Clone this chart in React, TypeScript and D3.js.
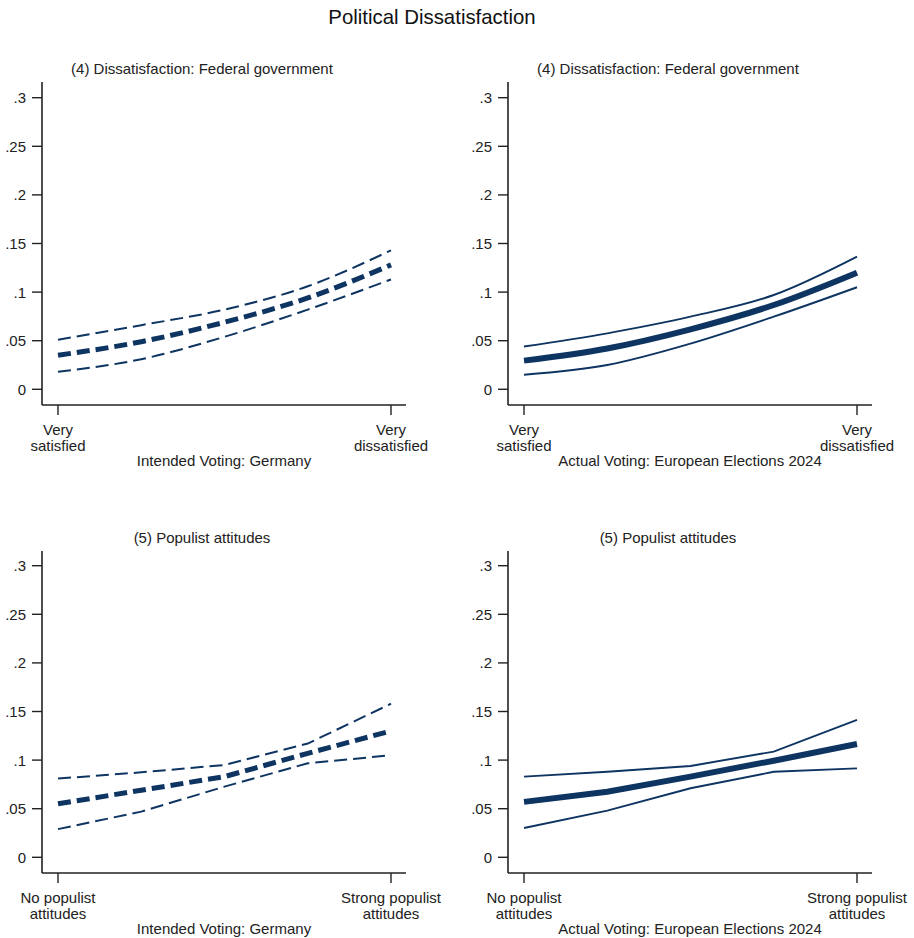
import React, { useEffect, useRef } from "react";
import * as d3 from "d3";

// predicted probabilities at 5 levels of each predictor
const levels = [1, 2, 3, 4, 5];

const dissIntendedMean = [0.035, 0.049, 0.069, 0.094, 0.128];
const dissIntendedUpper = [0.051, 0.066, 0.082, 0.106, 0.143];
const dissIntendedLower = [0.018, 0.031, 0.054, 0.082, 0.113];

const dissActualMean = [0.0295, 0.042, 0.0617, 0.0867, 0.12];
const dissActualUpper = [0.044, 0.0576, 0.0747, 0.097, 0.1365];
const dissActualLower = [0.015, 0.025, 0.047, 0.0747, 0.105];

const popIntendedMean = [0.055, 0.069, 0.083, 0.107, 0.13];
const popIntendedUpper = [0.081, 0.0874, 0.095, 0.117, 0.158];
const popIntendedLower = [0.029, 0.047, 0.0727, 0.0967, 0.105];

const popActualMean = [0.057, 0.0675, 0.083, 0.0994, 0.1166];
const popActualUpper = [0.083, 0.088, 0.094, 0.1087, 0.1413];
const popActualLower = [0.0302, 0.048, 0.071, 0.088, 0.0915];

const yTicks = [0, 0.05, 0.1, 0.15, 0.2, 0.25, 0.3];
const yTickLabels = ["0", ".05", ".1", ".15", ".2", ".25", ".3"];

const dissLabels = [["Very", "satisfied"], ["Very", "dissatisfied"]];
const popLabels = [["No populist", "attitudes"], ["Strong populist", "attitudes"]];

const NAVY = "#0e3462";
const INK = "#222";
const FONT = "'Liberation Sans', Arial, sans-serif";

function App() {
  const svgRef = useRef();

  useEffect(() => {
    const svg = d3.select(svgRef.current);
    svg.selectAll("*").remove();

    svg.append("text")
      .attr("x", 432)
      .attr("y", 24)
      .attr("text-anchor", "middle")
      .attr("font-size", 20.4)
      .attr("fill", "#111")
      .text("Political Dissatisfaction");

    const panels = [
      { left: 42, top: 82, bottom: 405, dashed: true, smooth: true,
        mean: dissIntendedMean, upper: dissIntendedUpper, lower: dissIntendedLower,
        title: "(4) Dissatisfaction: Federal government", xTitle: "Intended Voting: Germany", cats: dissLabels },
      { left: 508, top: 82, bottom: 405, dashed: false, smooth: true,
        mean: dissActualMean, upper: dissActualUpper, lower: dissActualLower,
        title: "(4) Dissatisfaction: Federal government", xTitle: "Actual Voting: European Elections 2024", cats: dissLabels },
      { left: 42, top: 551, bottom: 873, dashed: true, smooth: false,
        mean: popIntendedMean, upper: popIntendedUpper, lower: popIntendedLower,
        title: "(5) Populist attitudes", xTitle: "Intended Voting: Germany", cats: popLabels },
      { left: 508, top: 551, bottom: 873, dashed: false, smooth: false,
        mean: popActualMean, upper: popActualUpper, lower: popActualLower,
        title: "(5) Populist attitudes", xTitle: "Actual Voting: European Elections 2024", cats: popLabels },
    ];

    panels.forEach(p => {
      const right = p.left + 364;
      const x = d3.scaleLinear().domain([1, 5]).range([p.left + 16, p.left + 349]);
      const y = d3.scaleLinear().domain([0, 0.3]).range([p.bottom - 15.7, p.bottom - 307.3]);
      const g = svg.append("g");

      // axes
      g.append("line")
        .attr("x1", p.left).attr("x2", p.left)
        .attr("y1", p.top).attr("y2", p.bottom)
        .attr("stroke", INK).attr("stroke-width", 1.6);
      g.append("line")
        .attr("x1", p.left).attr("x2", right)
        .attr("y1", p.bottom).attr("y2", p.bottom)
        .attr("stroke", INK).attr("stroke-width", 1.6);

      g.selectAll(".ytick")
        .data(yTicks)
        .join("line")
        .attr("x1", p.left - 10).attr("x2", p.left)
        .attr("y1", d => y(d)).attr("y2", d => y(d))
        .attr("stroke", INK).attr("stroke-width", 1.4);
      g.selectAll(".ylab")
        .data(yTicks)
        .join("text")
        .attr("x", p.left - 16)
        .attr("y", d => y(d) + 5.5)
        .attr("text-anchor", "end")
        .attr("font-size", 15)
        .attr("fill", INK)
        .text((d, i) => yTickLabels[i]);

      const ends = [1, 5];
      g.selectAll(".xtick")
        .data(ends)
        .join("line")
        .attr("x1", d => x(d)).attr("x2", d => x(d))
        .attr("y1", p.bottom).attr("y2", p.bottom + 10)
        .attr("stroke", INK).attr("stroke-width", 1.4);
      ends.forEach((e, i) => {
        p.cats[i].forEach((line, j) => {
          g.append("text")
            .attr("x", x(e))
            .attr("y", p.bottom + 30 + j * 15.5)
            .attr("text-anchor", "middle")
            .attr("font-size", 15)
            .attr("fill", INK)
            .text(line);
        });
      });

      g.append("text")
        .attr("x", (p.left + right) / 2)
        .attr("y", p.bottom + 61)
        .attr("text-anchor", "middle")
        .attr("font-size", 15)
        .attr("fill", INK)
        .text(p.xTitle);

      g.append("text")
        .attr("x", (p.left + right) / 2 - 22)
        .attr("y", p.top - 8)
        .attr("text-anchor", "middle")
        .attr("font-size", 15)
        .attr("fill", INK)
        .text(p.title);

      // lines
      const lineGen = d3.line()
        .x((d, i) => x(levels[i]))
        .y(d => y(d))
        .curve(p.smooth ? d3.curveMonotoneX : d3.curveLinear);

      [p.upper, p.lower].forEach(series => {
        g.append("path")
          .attr("d", lineGen(series))
          .attr("fill", "none")
          .attr("stroke", NAVY)
          .attr("stroke-width", p.dashed ? 2 : 1.9)
          .attr("stroke-dasharray", p.dashed ? "13,6" : null);
      });
      g.append("path")
        .attr("d", lineGen(p.mean))
        .attr("fill", "none")
        .attr("stroke", NAVY)
        .attr("stroke-width", p.dashed ? 5 : 6)
        .attr("stroke-dasharray", p.dashed ? "13,6" : null);
    });
  }, []);

  return (
    <svg
      ref={svgRef}
      width={914}
      height={938}
      style={{ position: "absolute", left: 0, top: 0, background: "#fff", fontFamily: FONT }}
    />
  );
}

export default App;
